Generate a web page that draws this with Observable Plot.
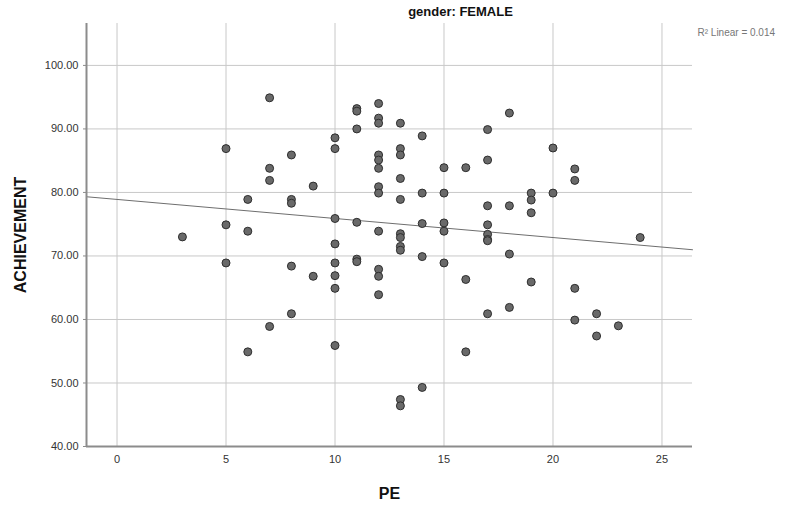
<!DOCTYPE html>
<html>
<head>
<meta charset="utf-8">
<script src="https://cdn.jsdelivr.net/npm/d3@7"></script>
<script src="https://cdn.jsdelivr.net/npm/@observablehq/plot@0.6"></script>
<style>
  html, body { margin: 0; padding: 0; background: #fff; }
  #chart { width: 789px; height: 506px; }
</style>
</head>
<body>
<div id="chart"></div>
<script>
// PE values (x) and ACHIEVEMENT values (y)
const pe = [
  3,
  5, 5, 5,
  6, 6, 6,
  7, 7, 7, 7,
  8, 8, 8, 8, 8,
  9, 9,
  10, 10, 10, 10, 10, 10, 10, 10,
  11, 11, 11, 11, 11, 11,
  12, 12, 12, 12, 12, 12, 12, 12, 12, 12, 12, 12,
  13, 13, 13, 13, 13, 13, 13, 13, 13, 13, 13,
  14, 14, 14, 14, 14,
  15, 15, 15, 15, 15,
  16, 16, 16,
  17, 17, 17, 17, 17, 17, 17, 17,
  18, 18, 18, 18,
  19, 19, 19, 19,
  20, 20,
  21, 21, 21, 21,
  22, 22,
  23,
  24
];
const achievement = [
  73.0,
  86.9, 74.9, 68.9,
  78.9, 73.9, 54.9,
  94.9, 83.8, 81.9, 58.9,
  85.9, 78.9, 78.3, 68.4, 60.9,
  81.0, 66.8,
  88.6, 86.9, 75.9, 71.9, 68.9, 66.9, 64.9, 55.9,
  93.2, 92.8, 90.0, 75.3, 69.5, 69.1,
  94.0, 91.7, 90.9, 85.9, 85.1, 83.8, 80.9, 79.9, 73.9, 67.9, 66.8, 63.9,
  90.9, 86.9, 85.9, 82.2, 78.9, 73.5, 72.9, 71.5, 70.9, 47.4, 46.4,
  88.9, 79.9, 75.1, 69.9, 49.3,
  83.9, 79.9, 75.2, 73.9, 68.9,
  83.9, 66.3, 54.9,
  89.9, 85.1, 77.9, 74.9, 73.4, 72.6, 72.4, 60.9,
  92.5, 77.9, 70.3, 61.9,
  79.9, 78.8, 76.8, 65.9,
  87.0, 79.9,
  83.7, 81.9, 64.9, 59.9,
  60.9, 57.4,
  59.0,
  72.9
];
const xTicks = [0, 5, 10, 15, 20, 25];
const yTicks = [40, 50, 60, 70, 80, 90, 100];
const xDomain = [-1.4, 26.4];
const yDomain = [40, 106.6];
// Fitted linear regression (R² Linear = 0.014)
const fitIntercept = 78.9;
const fitSlope = -0.30;
const titleText = "gender: FEMALE";
const r2Text = "R² Linear = 0.014";
const xLabel = "PE";
const yLabel = "ACHIEVEMENT";

const data = pe.map((x, i) => ({x, y: achievement[i]}));
const fitLine = xDomain.map(x => ({x, y: fitIntercept + fitSlope * x}));

const chart = Plot.plot({
  width: 789,
  height: 506,
  marginLeft: 86,
  marginRight: 97,
  marginTop: 23,
  marginBottom: 60,
  x: {domain: xDomain},
  y: {domain: yDomain},
  style: {fontFamily: "'Liberation Sans', Arial, sans-serif", fontSize: "11px", color: "#333", background: "#fff"},
  marks: [
    Plot.gridX(xTicks, {stroke: "#c8c8c8", strokeOpacity: 1, strokeWidth: 1}),
    Plot.gridY(yTicks, {stroke: "#c8c8c8", strokeOpacity: 1, strokeWidth: 1}),
    Plot.line(fitLine, {x: "x", y: "y", stroke: "#6e6e6e", strokeWidth: 1}),
    Plot.dot(data, {x: "x", y: "y", r: 4, fill: "#696969", stroke: "#2e2e2e", strokeWidth: 1, fillOpacity: 1}),
    Plot.ruleX([xDomain[0]], {stroke: "#8c8c8c", strokeWidth: 2}),
    Plot.ruleY([yDomain[0]], {stroke: "#8c8c8c", strokeWidth: 2}),
    Plot.axisX(xTicks, {tickSize: 0, tickPadding: 9, label: null, fill: "#333"}),
    Plot.axisY(yTicks, {tickSize: 3, tickPadding: 5, label: null, tickFormat: d3.format(".2f"), fill: "#333", stroke: "#8c8c8c"}),
    Plot.text([titleText], {frameAnchor: "top-left", dx: 374, dy: -17, text: d => d, textAnchor: "middle", fontWeight: "bold", fontSize: 13, fill: "#111"}),
    Plot.text([r2Text], {frameAnchor: "top-right", dx: 5, dy: 5, text: d => d, textAnchor: "start", fontSize: 10, fill: "#777"}),
    Plot.text([xLabel], {frameAnchor: "bottom", dx: 0, dy: 52, text: d => d, textAnchor: "middle", fontWeight: "bold", fontSize: 16, fill: "#111"}),
    Plot.text([yLabel], {frameAnchor: "left", dx: -66, dy: 0, text: d => d, textAnchor: "middle", rotate: -90, fontWeight: "bold", fontSize: 16, fill: "#111"})
  ]
});
document.getElementById("chart").appendChild(chart);
</script>
</body>
</html>
